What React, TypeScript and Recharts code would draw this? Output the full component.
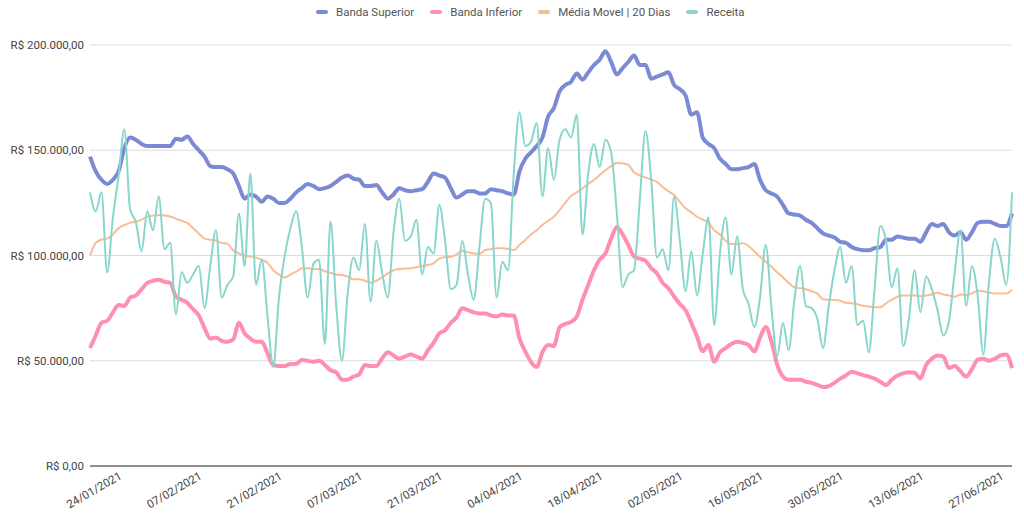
import { LineChart, Line, XAxis, YAxis, CartesianGrid } from 'recharts'

// valores em milhares de reais, um ponto por dia (24/01/2021 a 04/07/2021)
const startDate = Date.UTC(2021, 0, 24)
const dayCount = 162

const receita = [
  130, 121, 130, 92, 118, 138, 160, 122, 116, 102,
  121, 112, 128, 103, 106, 72, 92, 87, 91, 95,
  75, 95, 112, 80, 86, 90, 120, 95, 139, 86,
  98, 71, 47, 80, 100, 113, 121, 104, 80, 96,
  98, 58, 116, 76, 50, 82, 99, 93, 115, 78,
  107, 92, 80, 111, 127, 107, 109, 117, 91, 104,
  101, 124, 107, 84, 86, 107, 91, 79, 104, 127,
  125, 80, 97, 93, 139, 168, 152, 154, 163, 128,
  151, 136, 155, 160, 156, 167, 110, 139, 153, 142,
  155, 149, 120, 85, 91, 93, 126, 159, 136, 99,
  103, 93, 128, 107, 83, 102, 81, 101, 118, 67,
  101, 118, 91, 109, 84, 77, 66, 80, 105, 75,
  52, 68, 55, 79, 95, 76, 75, 70, 56, 76,
  93, 104, 87, 95, 67, 69, 54, 84, 114, 107,
  85, 94, 57, 70, 93, 73, 90, 84, 74, 62,
  69, 92, 112, 76, 95, 81, 53, 88, 108, 99,
  86, 130,
]

const bandaSuperior = [
  147, 140, 136, 134, 136, 140, 151, 156, 155, 153,
  152, 152, 152, 152, 152, 155.5, 155, 156.5, 153, 150,
  147, 142.5, 142, 142, 141, 139, 133, 127, 129, 128,
  125.5, 128, 127, 125, 125, 127, 130, 132, 134, 133,
  131.5, 132, 133, 135, 137, 138, 136.5, 136, 133, 133,
  133.5, 130, 127, 129, 132, 131, 130.5, 131, 131.5, 135,
  139, 138, 137, 132, 127.5, 129, 130.5, 130.5, 129.5, 129.5,
  131.5, 131, 130.5, 129.5, 129, 140, 146, 149, 152, 156,
  166, 170, 178, 181, 182.5, 186.5, 183.5, 187, 190.5, 193,
  197, 192, 186, 189, 192, 195, 190.5, 190.5, 184, 185,
  186, 187, 181, 179, 176, 167, 168, 156, 153, 151,
  146, 143.5, 141, 141, 141.5, 142, 143.5, 136, 131, 129.5,
  128, 124, 120, 119.5, 119, 117, 115.5, 113, 110.5, 109.5,
  108.5, 106.5, 106, 104, 103, 102.5, 102.5, 103.5, 104, 107.5,
  107.5, 109, 108.5, 108, 108, 106.5, 111, 115, 114, 115,
  111, 109.5, 111, 107.5, 111, 115.5, 116, 116, 115, 114,
  114, 120,
]

const bandaInferior = [
  56, 62, 68, 69, 73, 76.5, 76, 80, 81, 84,
  87, 88, 88.5, 87.5, 87, 80.5, 79, 77.5, 74.5, 71.5,
  65.5, 60.5, 61, 59.5, 59, 60, 68, 63, 60.5, 59,
  59, 53.5, 48, 47.5, 47.5, 48.5, 48.5, 50.5, 50, 49.5,
  50, 48, 45.5, 44.5, 41, 41, 42.5, 43.5, 48, 47.5,
  47.5, 51, 54, 52.5, 51, 52, 53, 52, 51, 55,
  58.5, 63, 64.5, 68, 70.5, 75, 74, 73, 72.5, 72.5,
  71.5, 71, 72, 71.5, 71.5, 60.5, 54.5, 49.5, 47, 54,
  57.5, 57, 66, 67.5, 68.5, 71, 79, 86, 93, 98,
  101, 108, 113.5, 110, 105, 99.5, 98.5, 97.5, 94, 91.5,
  87, 84.5, 80.5, 77, 74, 68, 61.5, 54.5, 57.5, 49.5,
  54, 56, 58, 59, 58.5, 57.5, 54.5, 61, 66, 59,
  48, 42.5, 41, 41, 41, 40, 39.5, 38.5, 37.5, 38,
  39.5, 41.5, 43, 44.8, 44, 43.2, 42.5, 41.5, 40, 38.5,
  41, 43, 44, 44.5, 44.3, 41.6, 48, 51, 52.5, 52,
  46.5, 47.5, 45, 42.5, 46, 50.5, 51, 50, 51, 52.5,
  53, 46.5,
]

const mediaMovel = [
  100, 106, 107.5, 108, 110, 113, 114.5, 115.5, 116, 117,
  118.5, 119, 119.2, 119, 118.5, 117.5, 116.5, 115.5, 113, 110.5,
  108, 107.5, 107, 106, 105.5, 102.5, 101, 100, 99.5, 99,
  98, 96.5, 93, 91, 89.6, 91, 92.3, 94, 94, 93.6,
  93.6, 92.5, 91.8, 91, 90.7, 90, 88.7, 88.7, 88, 87,
  88, 89.6, 91.5, 93, 93.5, 93.8, 93.9, 94.5, 95, 95.5,
  96.3, 98.5, 99.2, 99.4, 100.5, 102.3, 101.5, 101, 100.7, 102.6,
  103, 103.4, 103.4, 103.2, 102.6, 105, 107.4, 110, 112, 114.5,
  116.5, 118.4, 121.6, 125, 128.3, 130, 131.9, 134, 135.9, 138.2,
  140.5, 142.5, 144, 143.8, 143, 139.5, 138, 137.1, 136, 135,
  132.5, 130.5, 128.7, 125.5, 122.4, 120.5, 118.4, 117, 115.6, 112,
  110, 107, 105.5, 105.5, 105.8, 104.5, 102, 99.4, 97, 94.7,
  92, 89.6, 87, 84.9, 84.5, 84, 83, 82, 79.2, 79,
  78.9, 78.5, 77.5, 77.3, 76.8, 76.1, 75.8, 75.4, 75.4, 77.3,
  79, 80.4, 81, 81, 81, 80.7, 81, 81.5, 82.3, 81.5,
  81, 80.4, 81.5, 81.2, 82, 83.3, 83, 82.3, 82, 82,
  82, 83.6,
]

const yTicks = [0, 50000, 100000, 150000, 200000]

const series = [
  { key: 'superior', name: 'Banda Superior', color: '#7c8ad3', width: 4 },
  { key: 'inferior', name: 'Banda Inferior', color: '#ff8fae', width: 4 },
  { key: 'media', name: 'Média Movel | 20 Dias', color: '#f9bc93', width: 2 },
  { key: 'receita', name: 'Receita', color: '#88d6cc', width: 2 },
]

const pad = (n: number) => (n < 10 ? '0' + n : String(n))

const categories = Array.from({ length: dayCount }, (_, i) => {
  const d = new Date(startDate + i * 86400000)
  return `${pad(d.getUTCDate())}/${pad(d.getUTCMonth() + 1)}/${d.getUTCFullYear()}`
})

const data = categories.map((date, i) => ({
  date,
  superior: bandaSuperior[i] * 1000,
  inferior: bandaInferior[i] * 1000,
  media: mediaMovel[i] * 1000,
  receita: receita[i] * 1000,
}))

const formatBRL = (value: number) => {
  const int = Math.round(value)
    .toString()
    .replace(/\B(?=(\d{3})+(?!\d))/g, '.')
  return `R$ ${int},00`
}

const FONT = 'Roboto, Arial, sans-serif'

const DateTick = (props: any) => {
  const { x, payload } = props
  const cx = x + 4
  const cy = 490
  return (
    <text
      x={cx}
      y={cy}
      transform={`rotate(-30, ${cx}, ${cy})`}
      textAnchor="middle"
      dominantBaseline="central"
      fill="#444"
      fontSize={11.5}
      fontFamily={FONT}
    >
      {payload.value}
    </text>
  )
}

const ValueTick = (props: any) => {
  const { y, payload } = props
  return (
    <text
      x={84}
      y={y}
      textAnchor="end"
      dominantBaseline="central"
      fill="#444"
      fontSize={11.5}
      fontFamily={FONT}
    >
      {formatBRL(payload.value)}
    </text>
  )
}

const ChartLegend = () => (
  <div
    style={{
      position: 'absolute',
      top: 5,
      left: 316,
      display: 'flex',
      alignItems: 'center',
      fontFamily: FONT,
      fontSize: 11.5,
      color: '#555',
      whiteSpace: 'nowrap',
    }}
  >
    {series.map(s => (
      <div key={s.key} style={{ display: 'flex', alignItems: 'center', marginRight: 16 }}>
        <span
          style={{
            display: 'inline-block',
            width: 12,
            height: 4,
            borderRadius: 2,
            background: s.color,
            marginRight: 8,
          }}
        />
        <span>{s.name}</span>
      </div>
    ))}
  </div>
)

export default function App() {
  return (
    <div style={{ position: 'absolute', left: 0, top: 0, width: 1024, height: 513, background: '#fff' }}>
      <ChartLegend />
      <LineChart
        width={1024}
        height={513}
        data={data}
        margin={{ top: 45, right: 12, bottom: 0, left: 0 }}
      >
        <CartesianGrid vertical={false} stroke="#dcdcdc" />
        <XAxis
          dataKey="date"
          interval={13}
          height={47}
          tickLine={false}
          axisLine={{ stroke: '#333' }}
          tick={<DateTick />}
        />
        <YAxis
          width={90}
          domain={[0, 200000]}
          ticks={yTicks}
          axisLine={false}
          tickLine={false}
          tick={<ValueTick />}
        />
        {series.map(s => (
          <Line
            key={s.key}
            type="monotone"
            dataKey={s.key}
            name={s.name}
            stroke={s.color}
            strokeWidth={s.width}
            dot={false}
            activeDot={false}
            isAnimationActive={false}
          />
        ))}
      </LineChart>
    </div>
  )
}
